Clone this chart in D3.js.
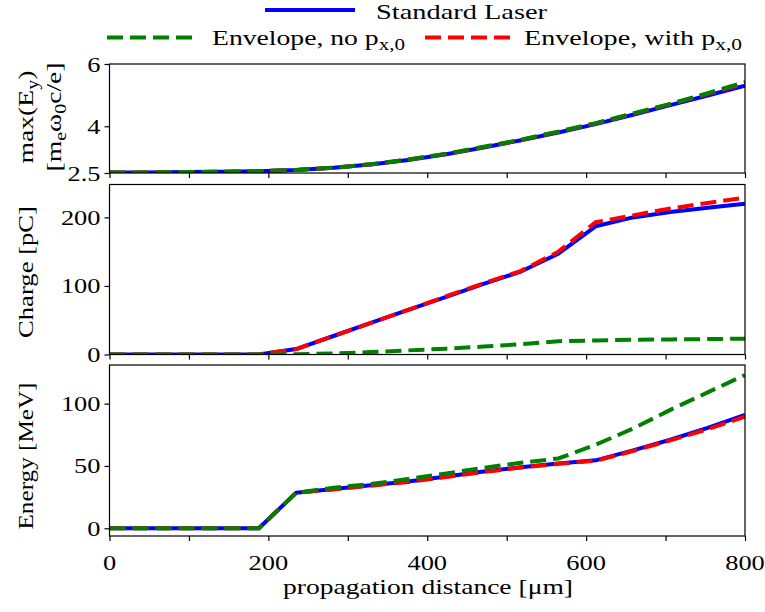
<!DOCTYPE html>
<html>
<head>
<meta charset="utf-8">
<script src="https://cdn.jsdelivr.net/npm/d3@7"></script>
<style>
  html, body { margin: 0; padding: 0; background: #fff; }
  svg { display: block; }
</style>
</head>
<body>
<script>
// ---------- data ----------
const distance = [0, 47, 94, 141, 188, 235, 282, 329, 376, 424, 471, 518, 565, 612, 659, 706, 753, 800];

const eyStandard = [2.52, 2.52, 2.53, 2.54, 2.56, 2.60, 2.67, 2.77, 2.92, 3.10, 3.32, 3.55, 3.80, 4.07, 4.37, 4.68, 4.99, 5.30];
const eyNoPx     = [2.52, 2.52, 2.53, 2.54, 2.56, 2.60, 2.67, 2.78, 2.93, 3.12, 3.34, 3.57, 3.83, 4.10, 4.41, 4.72, 5.06, 5.42];
const eyWithPx   = [2.52, 2.52, 2.53, 2.54, 2.56, 2.60, 2.67, 2.78, 2.93, 3.11, 3.33, 3.56, 3.82, 4.09, 4.40, 4.71, 5.04, 5.38];

const chargeStandard = [0, 0, 0, 0, 0, 8, 27, 46, 65, 84, 103, 121, 147, 187, 200, 208, 214, 220];
const chargeNoPx     = [0, 0, 0, 0, 0, 0.5, 1.5, 3.5, 6, 8.5, 11.5, 15, 19.5, 20.5, 21.5, 22, 22.5, 23];
const chargeWithPx   = [0, 0, 0, 0, 0, 8, 27, 46, 65, 85, 104, 122, 150, 193, 203, 213, 221, 229];

const energyStandard = [0, 0, 0, 0, 0, 28.5, 31.5, 34.5, 37.5, 41.5, 45.5, 49, 52, 54.5, 62.5, 71, 80.5, 91];
const energyNoPx     = [0, 0, 0, 0, 0, 28.5, 32.5, 35.5, 39.5, 44, 48.5, 52.5, 56, 67, 80, 95, 109, 123];
const energyWithPx   = [0, 0, 0, 0, 0, 28.5, 31.2, 34.2, 37.2, 41.2, 45.2, 48.7, 51.7, 54.2, 62, 70.5, 79.5, 89.5];

const xTicks = [0, 100, 200, 300, 400, 500, 600, 700, 800];
const xTickLabels = ["0", "", "200", "", "400", "", "600", "", "800"];

const eyTicks = [2.5, 4, 6];
const eyTickLabels = ["2.5", "4", "6"];
const chargeTicks = [0, 100, 200];
const chargeTickLabels = ["0", "100", "200"];
const energyTicks = [0, 50, 100];
const energyTickLabels = ["0", "50", "100"];

const seriesNames = ["Standard Laser", "Envelope, no p", "Envelope, with p"];
const seriesColors = ["#0000ff", "#008000", "#ff0000"];

// ---------- layout ----------
const W = 765, H = 612;
const L = 109.5, R = 745;
const FONT = "Liberation Serif";
const svg = d3.select("body").append("svg").attr("width", W).attr("height", H);

const x = d3.scaleLinear().domain([0, 800]).range([L, R]);

const panels = [
  { top: 64, bottom: 173, domain: [2.5, 6], ticks: eyTicks, labels: eyTickLabels,
    series: [eyStandard, eyNoPx, eyWithPx] },
  { top: 184.5, bottom: 354.5, domain: [0, 248], ticks: chargeTicks, labels: chargeTickLabels,
    series: [chargeStandard, chargeNoPx, chargeWithPx] },
  { top: 365, bottom: 536, domain: [-6.2, 131], ticks: energyTicks, labels: energyTickLabels,
    series: [energyStandard, energyNoPx, energyWithPx] }
];

const TSX = 1.2; // horizontal glyph stretch for tick labels
const FS = 22;

function tickText(g, tx, ty, str, anchor) {
  g.append("text")
    .attr("transform", `translate(${tx},${ty}) scale(${TSX},1)`)
    .attr("text-anchor", anchor)
    .attr("font-family", FONT)
    .attr("font-size", FS)
    .attr("fill", "#000")
    .text(str);
}

panels.forEach((p, i) => {
  const y = d3.scaleLinear().domain(p.domain).range([p.bottom, p.top]);
  const g = svg.append("g");
  const clipId = "clip" + i;
  svg.append("clipPath").attr("id", clipId).append("rect")
    .attr("x", L).attr("y", p.top).attr("width", R - L).attr("height", p.bottom - p.top);

  const line = d3.line().x((d, k) => x(distance[k])).y(d => y(d));
  const lines = g.append("g").attr("clip-path", `url(#${clipId})`);
  // draw order: standard (blue), with p (red), no p (green)
  lines.append("path").datum(p.series[0]).attr("d", line)
    .attr("fill", "none").attr("stroke", seriesColors[0]).attr("stroke-width", 4)
    .attr("stroke-linejoin", "round");
  lines.append("path").datum(p.series[2]).attr("d", line)
    .attr("fill", "none").attr("stroke", seriesColors[2]).attr("stroke-width", 4)
    .attr("stroke-dasharray", "16,7");
  lines.append("path").datum(p.series[1]).attr("d", line)
    .attr("fill", "none").attr("stroke", seriesColors[1]).attr("stroke-width", 4)
    .attr("stroke-dasharray", "16,7");

  // frame
  g.append("rect").attr("x", L).attr("y", p.top).attr("width", R - L).attr("height", p.bottom - p.top)
    .attr("fill", "none").attr("stroke", "#000").attr("stroke-width", 1.2);

  // y axis ticks
  const yAxis = d3.axisLeft(y).tickValues(p.ticks).tickSize(5).tickFormat((d, k) => p.labels[k]);
  const ya = g.append("g").attr("transform", `translate(${L},0)`).call(yAxis);
  ya.select(".domain").remove();
  ya.selectAll(".tick line").attr("stroke", "#000").attr("stroke-width", 1.2);
  ya.selectAll(".tick text").remove();
  p.ticks.forEach((t, k) => tickText(g, L - 9, y(t) + 7.5, p.labels[k], "end"));

  // x axis ticks
  const xAxis = d3.axisBottom(x).tickValues(xTicks).tickSize(5).tickFormat("");
  const xa = g.append("g").attr("transform", `translate(0,${p.bottom})`).call(xAxis);
  xa.select(".domain").remove();
  xa.selectAll(".tick line").attr("stroke", "#000").attr("stroke-width", 1.2);
  xa.selectAll(".tick text").remove();
  if (i === 2) {
    xTicks.forEach((t, k) => { if (xTickLabels[k]) tickText(g, x(t), 570, xTickLabels[k], "middle"); });
  }
});

// ---------- axis labels ----------
function rotLabel(bx, cy, len, build) {
  const t = svg.append("text")
    .attr("transform", `translate(${bx},${cy}) rotate(-90)`)
    .attr("text-anchor", "middle")
    .attr("font-family", FONT)
    .attr("font-size", FS)
    .attr("textLength", len).attr("lengthAdjust", "spacingAndGlyphs");
  build(t);
}

rotLabel(33, 117, 93, t => {
  t.append("tspan").text("max(E");
  t.append("tspan").attr("dy", 5).attr("font-size", 16).text("y");
  t.append("tspan").attr("dy", -5).text(")");
});
rotLabel(61, 117, 109, t => {
  t.append("tspan").text("[m");
  t.append("tspan").attr("dy", 5).attr("font-size", 16).text("e");
  t.append("tspan").attr("dy", -5).text("ω");
  t.append("tspan").attr("dy", 5).attr("font-size", 16).text("0");
  t.append("tspan").attr("dy", -5).text("c/e]");
});
rotLabel(33, 272, 132, t => t.text("Charge [pC]"));
rotLabel(33, 456, 147, t => t.text("Energy [MeV]"));

svg.append("text").attr("x", 428).attr("y", 594).attr("text-anchor", "middle")
  .attr("font-family", FONT)
  .attr("font-size", FS).attr("textLength", 290).attr("lengthAdjust", "spacingAndGlyphs")
  .text("propagation distance [μm]");

// ---------- legend ----------
const legend = svg.append("g");
function legendEntry(x0, x1, ly, ty, color, dashed, tx, len, build) {
  legend.append("line").attr("x1", x0).attr("x2", x1).attr("y1", ly).attr("y2", ly)
    .attr("stroke", color).attr("stroke-width", 4)
    .attr("stroke-dasharray", dashed ? "16,7" : null);
  const t = legend.append("text").attr("x", tx).attr("y", ty)
    .attr("font-family", FONT)
    .attr("font-size", 21).attr("textLength", len).attr("lengthAdjust", "spacingAndGlyphs");
  build(t);
}
legendEntry(265, 355, 10, 19, seriesColors[0], false, 376, 171, t => t.text(seriesNames[0]));
legendEntry(107, 197, 37.5, 45, seriesColors[1], true, 212, 193, t => {
  t.append("tspan").text(seriesNames[1]);
  t.append("tspan").attr("dy", 5).attr("font-size", 16).text("x,0");
});
legendEntry(425, 515, 37.5, 45, seriesColors[2], true, 524, 218, t => {
  t.append("tspan").text(seriesNames[2]);
  t.append("tspan").attr("dy", 5).attr("font-size", 16).text("x,0");
});
</script>
</body>
</html>
